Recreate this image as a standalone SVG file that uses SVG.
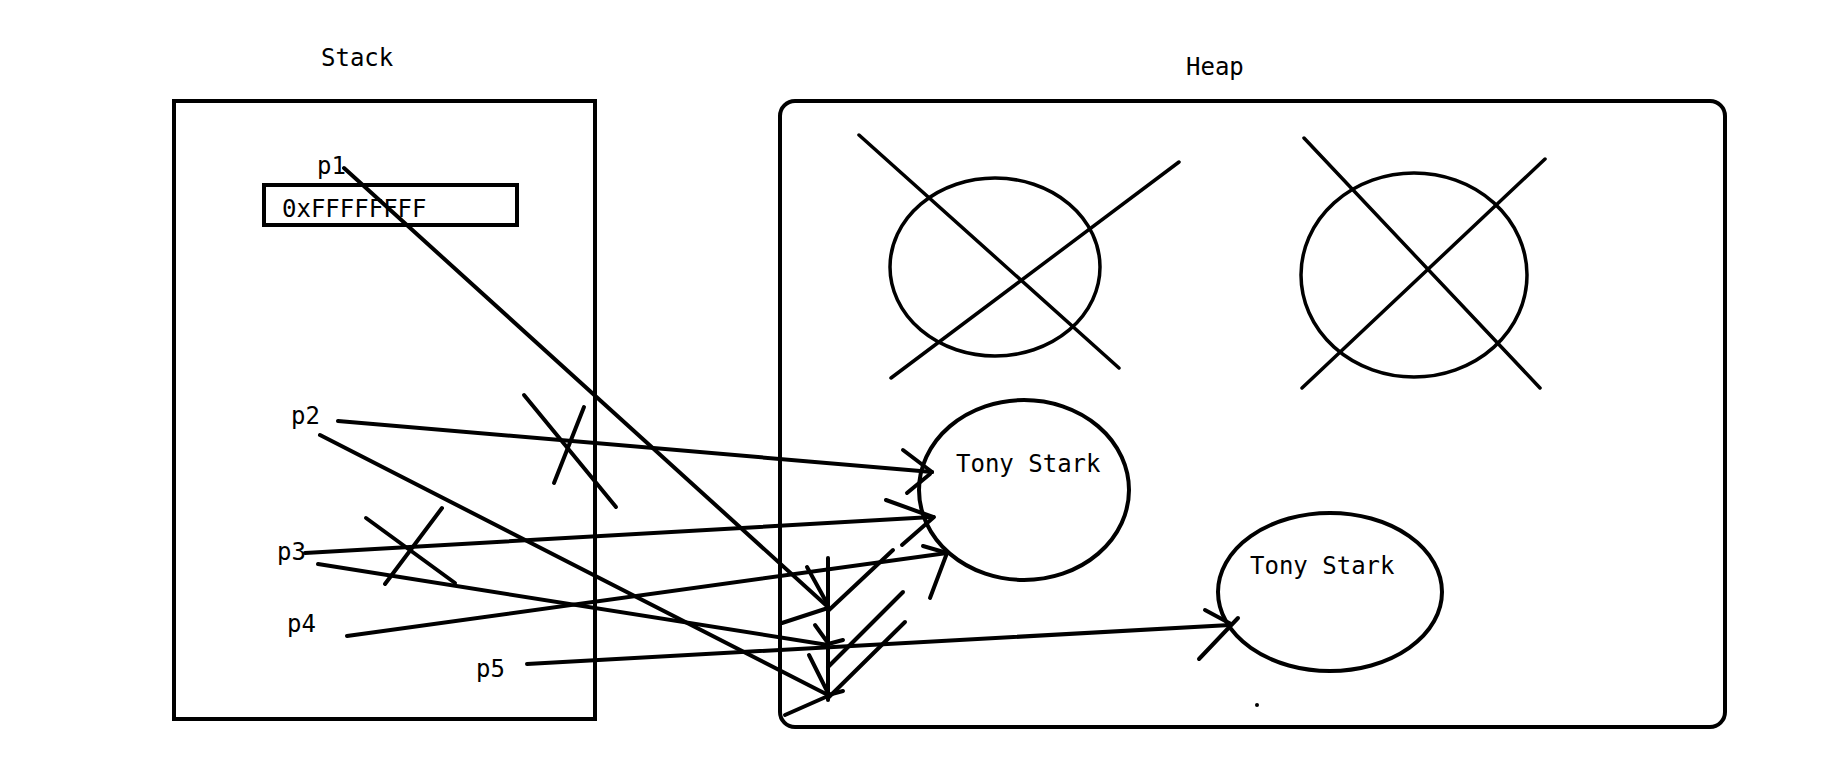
<svg xmlns="http://www.w3.org/2000/svg" width="1834" height="776" viewBox="0 0 1834 776">
<style>
  .bg { fill: #ffffff; }
  .box { fill: none; stroke: #000; stroke-width: 4; }
  .obj { fill: none; stroke: #000; stroke-width: 4; }
  .dead { fill: none; stroke: #000; stroke-width: 3.5; stroke-linecap: round; }
  .ln { fill: none; stroke: #000; stroke-width: 4; stroke-linecap: round; stroke-linejoin: round; }
  .t { font-family: "DejaVu Sans Mono", "Liberation Mono", monospace; font-size: 24px; fill: #000; }
</style>
<rect class="bg" x="0" y="0" width="1834" height="776"/>

<g id="stack">
  <text class="t" x="321" y="66">Stack</text>
  <rect class="box" x="174" y="101" width="421" height="618"/>
</g>

<g id="p1">
  <text class="t" x="317" y="174">p1</text>
  <rect class="box" x="264" y="185" width="253" height="40"/>
  <text class="t" x="282" y="217">0xFFFFFFFF</text>
</g>

<g id="p2"><text class="t" x="291" y="424">p2</text></g>
<g id="p3"><text class="t" x="277" y="560">p3</text></g>
<g id="p4"><text class="t" x="287" y="632">p4</text></g>
<g id="p5"><text class="t" x="476" y="677">p5</text></g>

<g id="heap">
  <text class="t" x="1186" y="75">Heap</text>
  <rect class="box" x="780" y="101" width="945" height="626" rx="15" ry="15"/>
  <circle cx="1257" cy="705" r="2" fill="#000"/>
</g>

<g id="object1-deleted">
  <ellipse class="dead" cx="995" cy="267" rx="105" ry="89"/>
  <line class="dead" x1="859" y1="135" x2="1119" y2="368"/>
  <line class="dead" x1="1179" y1="162" x2="891" y2="378"/>
</g>

<g id="object2-deleted">
  <ellipse class="dead" cx="1414" cy="275" rx="113" ry="102"/>
  <line class="dead" x1="1304" y1="138" x2="1540" y2="388"/>
  <line class="dead" x1="1545" y1="159" x2="1302" y2="388"/>
</g>

<g id="object3">
  <ellipse class="obj" cx="1024" cy="490" rx="105" ry="90"/>
  <text class="t" x="956" y="472">Tony Stark</text>
</g>

<g id="object4">
  <ellipse class="obj" cx="1330" cy="592" rx="112" ry="79"/>
  <text class="t" x="1250" y="574">Tony Stark</text>
</g>

<g id="connectors">
  <!-- p1 -->
  <line class="ln" x1="344" y1="168" x2="828" y2="607"/>
  <line class="ln" x1="807" y1="567" x2="828" y2="605"/>
  <line class="ln" x1="782" y1="623" x2="828" y2="608"/>
  <!-- vertical arrowhead bar -->
  <line class="ln" x1="828" y1="558" x2="828" y2="700"/>
  <!-- p2 to object3 (crossed out) -->
  <line class="ln" x1="338" y1="421" x2="932" y2="472"/>
  <line class="ln" x1="903" y1="450" x2="932" y2="472"/>
  <line class="ln" x1="907" y1="493" x2="930" y2="474"/>
  <line class="ln" x1="524" y1="395" x2="616" y2="507"/>
  <line class="ln" x1="584" y1="407" x2="554" y2="483"/>
  <!-- p2 lower -->
  <line class="ln" x1="320" y1="435" x2="828" y2="695"/>
  <line class="ln" x1="809" y1="655" x2="828" y2="693"/>
  <line class="ln" x1="843" y1="691" x2="828" y2="695"/>
  <line class="ln" x1="785" y1="715" x2="828" y2="696"/>
  <!-- p3 upper (crossed out) -->
  <line class="ln" x1="305" y1="553" x2="932" y2="517"/>
  <line class="ln" x1="886" y1="500" x2="933" y2="517"/>
  <line class="ln" x1="366" y1="518" x2="455" y2="583"/>
  <line class="ln" x1="442" y1="508" x2="385" y2="584"/>
  <!-- p3 lower -->
  <line class="ln" x1="318" y1="564" x2="828" y2="645"/>
  <line class="ln" x1="815" y1="625" x2="828" y2="643"/>
  <line class="ln" x1="843" y1="640" x2="828" y2="644"/>
  <!-- p4 -->
  <line class="ln" x1="347" y1="636" x2="947" y2="553"/>
  <line class="ln" x1="923" y1="546" x2="947" y2="553"/>
  <line class="ln" x1="930" y1="598" x2="947" y2="553"/>
  <!-- reassignments from bar back to object3 -->
  <line class="ln" x1="829" y1="610" x2="893" y2="550"/>
  <line class="ln" x1="902" y1="545" x2="934" y2="517"/>
  <line class="ln" x1="828" y1="667" x2="903" y2="592"/>
  <line class="ln" x1="829" y1="697" x2="905" y2="622"/>
  <!-- p5 to object4 -->
  <line class="ln" x1="527" y1="664" x2="1230" y2="625"/>
  <line class="ln" x1="1205" y1="610" x2="1231" y2="624"/>
  <line class="ln" x1="1199" y1="659" x2="1238" y2="618"/>
</g>
</svg>
